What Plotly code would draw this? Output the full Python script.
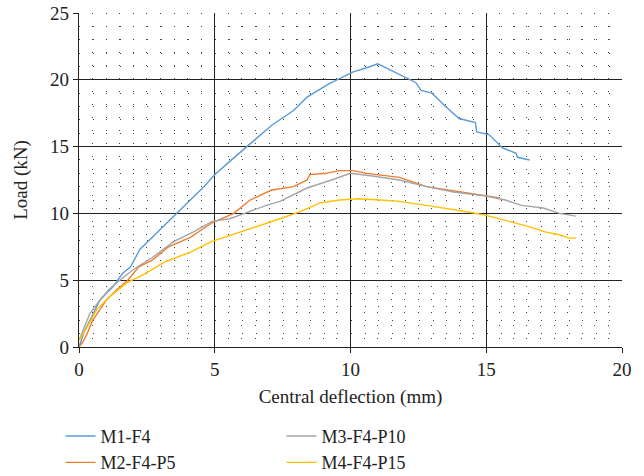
import plotly.graph_objects as go

# Data
m1_x = [0, 0.2, 0.4, 0.77, 1.0, 1.25, 1.6, 1.9, 2.24, 2.7, 3.1, 3.6, 4.1, 4.6, 5.0, 5.5, 5.9, 6.5, 7.1, 7.9, 8.4, 9.2, 10.1, 10.6, 11.0, 11.2, 11.7, 12.4, 12.6, 13.0, 13.5, 14.0, 14.6, 14.65, 15.1, 15.6, 16.1, 16.15, 16.6]
m1_y = [0, 1.2, 2.0, 3.5, 4.0, 4.5, 5.5, 6.0, 7.3, 8.2, 9.0, 10.0, 11.0, 12.0, 12.9, 13.8, 14.5, 15.6, 16.6, 17.7, 18.7, 19.7, 20.6, 20.9, 21.2, 21.0, 20.5, 19.8, 19.2, 19.0, 18.0, 17.1, 16.8, 16.1, 15.9, 14.9, 14.5, 14.2, 14.0]

m2_x = [0, 0.15, 0.3, 0.5, 0.77, 1.0, 1.4, 1.8, 2.2, 2.7, 3.3, 4.1, 4.9, 5.7, 6.3, 7.1, 7.9, 8.4, 8.5, 9.1, 9.6, 10.1, 10.6, 11.8, 12.8, 13.6, 14.5, 15.5]
m2_y = [0, 0.4, 1.0, 2.0, 2.8, 3.5, 4.3, 5.0, 6.0, 6.5, 7.5, 8.2, 9.3, 10.0, 11.0, 11.75, 12.0, 12.5, 12.9, 13.0, 13.2, 13.2, 13.0, 12.7, 12.0, 11.75, 11.45, 11.15]

m3_x = [0, 0.15, 0.4, 0.77, 1.1, 1.5, 2.0, 2.7, 3.5, 4.2, 4.9, 5.55, 6.2, 6.9, 7.4, 8.1, 8.4, 9.3, 10.0, 10.8, 11.8, 12.8, 13.8, 15.0, 15.7, 16.3, 17.1, 17.7, 18.3]
m3_y = [0.5, 1.2, 2.5, 3.5, 4.3, 5.0, 5.8, 6.7, 7.9, 8.6, 9.4, 9.6, 10.1, 10.6, 10.9, 11.6, 11.9, 12.5, 13.0, 12.8, 12.5, 12.0, 11.6, 11.3, 11.0, 10.6, 10.4, 10.0, 9.8]

m4_x = [0, 0.3, 0.65, 1.1, 1.75, 2.35, 3.2, 4.1, 4.9, 5.8, 6.5, 7.4, 8.1, 8.9, 9.6, 10.3, 11.1, 11.8, 12.8, 13.6, 14.5, 15.0, 15.7, 16.5, 17.2, 17.7, 18.05, 18.3]
m4_y = [0.5, 1.5, 2.8, 3.7, 4.8, 5.4, 6.4, 7.1, 7.9, 8.5, 9.0, 9.6, 10.1, 10.8, 11.0, 11.1, 11.0, 10.9, 10.6, 10.35, 10.05, 9.85, 9.5, 9.05, 8.6, 8.4, 8.15, 8.15]

series = [
    ("M1-F4", m1_x, m1_y, "#5B9BD5", 1),
    ("M2-F4-P5", m2_x, m2_y, "#ED7D31", 3),
    ("M3-F4-P10", m3_x, m3_y, "#A5A5A5", 2),
    ("M4-F4-P15", m4_x, m4_y, "#FFC000", 4),
]

FONT = "Liberation Serif"

fig = go.Figure()
for name, xs, ys, color, rank in series:
    fig.add_trace(go.Scatter(x=xs, y=ys, mode="lines", name=name,
                             line=dict(color=color, width=1.4, shape="linear"),
                             legendrank=rank))

fig.update_layout(
    width=644, height=476,
    margin=dict(l=79, r=22, t=13, b=129, autoexpand=False),
    paper_bgcolor="white", plot_bgcolor="white",
    font=dict(family=FONT, size=19, color="#222"),
    showlegend=True,
    legend=dict(orientation="h", x=-0.034, y=-0.212, xanchor="left", yanchor="top",
                entrywidth=176, entrywidthmode="pixels", itemwidth=30,
                font=dict(family=FONT, size=18, color="#222"),
                traceorder="normal", tracegroupgap=0),
    xaxis=dict(range=[0, 20], dtick=5, tick0=0, showgrid=True, gridcolor="#222", gridwidth=1.4,
               zeroline=False, showline=True, linecolor="#222", linewidth=1.4,
               ticks="outside", ticklen=5, tickcolor="#222", automargin=False,
               tickfont=dict(size=19),
               title=dict(text="Central deflection (mm)", standoff=10, font=dict(size=19)),
               minor=dict(dtick=0.5, showgrid=True, gridcolor="#444", gridwidth=1, griddash="1px,12px")),
    yaxis=dict(range=[0, 25], dtick=5, tick0=0, showgrid=True, gridcolor="#222", gridwidth=1.4,
               zeroline=False, showline=True, linecolor="#222", linewidth=1.4,
               ticks="outside", ticklen=5, tickcolor="#222", automargin=False,
               tickfont=dict(size=19),
               title=dict(text="Load (kN)", standoff=17, font=dict(size=19)),
               minor=dict(dtick=1, showgrid=True, gridcolor="#444", gridwidth=1, griddash="1px,12.6px")),
)

fig.write_html("out.html", config={"displayModeBar": False},
               post_script="document.body.style.margin='0';")
